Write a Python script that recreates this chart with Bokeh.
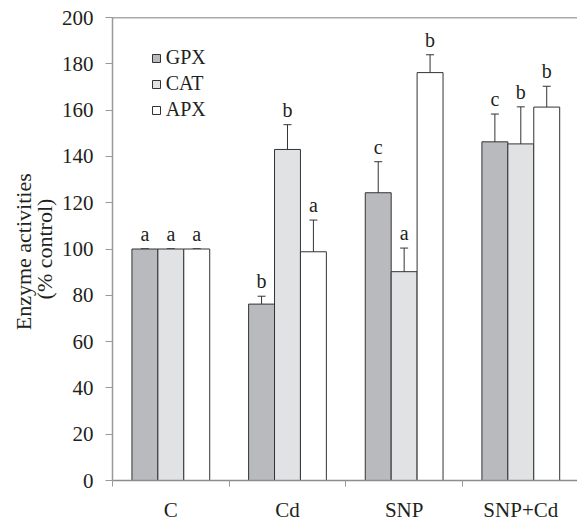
import numpy as np
from bokeh.plotting import figure
from bokeh.models import ColumnDataSource, Whisker, Span, FixedTicker, Legend, LegendItem, TeeHead
from bokeh.core.properties import value
from bokeh.embed import file_html
from bokeh.resources import INLINE

categories = ["C", "Cd", "SNP", "SNP+Cd"]
series = ["GPX", "CAT", "APX"]
gpx = [100, 76.2, 124.3, 146.3]
gpx_err = [0, 3.4, 13.4, 12.0]
cat = [100, 143.0, 90.2, 145.4]
cat_err = [0, 10.7, 10.2, 16.0]
apx = [100, 98.8, 176.2, 161.3]
apx_err = [0, 13.7, 7.7, 9.0]
gpx_letters = ["a", "b", "c", "c"]
cat_letters = ["a", "b", "a", "b"]
apx_letters = ["a", "a", "b", "b"]
y_ticks = [0, 20, 40, 60, 80, 100, 120, 140, 160, 180, 200]

values = [gpx, cat, apx]
errors = [gpx_err, cat_err, apx_err]
letters = [gpx_letters, cat_letters, apx_letters]
fills = ["#b9babe", "#e1e2e4", "#ffffff"]

FONT = "Liberation Serif"
TXT = "#231f20"

p = figure(width=577, height=524, x_range=(0, 3.986), y_range=(0, 200),
           output_backend="svg", toolbar_location=None,
           min_border_left=112, min_border_right=0, min_border_top=17, min_border_bottom=43)
p.grid.visible = False
p.outline_line_color = None
p.background_fill_color = "white"

bar_w = 2 / 9
centers = np.arange(len(categories)) + 0.5
offsets = [-bar_w, 0, bar_w]

items = []
for k, name in enumerate(series):
    xs = centers + offsets[k]
    v = np.array(values[k], dtype=float)
    e = np.array(errors[k], dtype=float)
    src = ColumnDataSource(dict(x=xs, top=v, upper=v + e, lower=v - e, letter=letters[k]))
    r = p.vbar(x="x", top="top", width=bar_w, bottom=0, source=src,
               fill_color=fills[k], line_color="#333333", line_width=1)
    items.append(LegendItem(label=name, renderers=[r]))
    w = Whisker(base="x", upper="upper", lower="lower", source=src,
                line_color="#333333", line_width=1,
                upper_head=TeeHead(size=8, line_color="#333333", line_width=1),
                lower_head=TeeHead(size=8, line_color="#333333", line_width=1))
    p.add_layout(w)
    p.text(x="x", y="upper", text="letter", source=src, text_align="center",
           text_baseline="bottom", y_offset=-4, text_font=value(FONT),
           text_font_size="20px", text_color=TXT)

p.add_layout(Span(location=200, dimension="width", line_color="#555555", line_width=1.5))

legend = Legend(items=items, location=(38.7, 359), padding=0, margin=0,
                border_line_color=None, background_fill_alpha=0,
                glyph_width=10, glyph_height=10, label_standoff=5, spacing=3,
                label_height=20, label_text_font=FONT, label_text_font_size="20px",
                label_text_color=TXT)
p.add_layout(legend, "center")

# x axis
xa = p.xaxis[0]
xa.axis_label = None
xa.axis_label_standoff = 0
xa.axis_label_text_font_size = "0px"
xa.ticker = FixedTicker(ticks=list(centers), minor_ticks=list(range(len(categories) + 1)))
xa.major_label_overrides = {float(c): lab for c, lab in zip(centers, categories)}
xa.major_tick_out = 0
xa.major_tick_in = 0
xa.minor_tick_out = 6
xa.minor_tick_in = 0
xa.minor_tick_line_color = "#999999"
xa.axis_line_color = "#8c8c8c"
xa.axis_line_width = 1.5
xa.major_label_standoff = 11
xa.major_label_text_font = FONT
xa.major_label_text_font_size = "21px"
xa.major_label_text_color = TXT

# y axis
ya = p.yaxis[0]
ya.ticker = FixedTicker(ticks=y_ticks)
ya.major_tick_out = 7
ya.major_tick_in = 0
ya.minor_tick_line_color = None
ya.major_tick_line_color = "#999999"
ya.axis_line_color = "#999999"
ya.axis_line_width = 1.5
ya.major_label_standoff = 12
ya.major_label_text_font = FONT
ya.major_label_text_font_size = "21px"
ya.major_label_text_color = TXT
ya.axis_label = "Enzyme  activities\n(% control)"
ya.axis_label_text_font = FONT
ya.axis_label_text_font_size = "22px"
ya.axis_label_text_font_style = "normal"
ya.axis_label_text_color = TXT
ya.axis_label_text_line_height = 0.85
ya.axis_label_standoff = 2

open("out.html", "w").write(file_html(p, INLINE))
